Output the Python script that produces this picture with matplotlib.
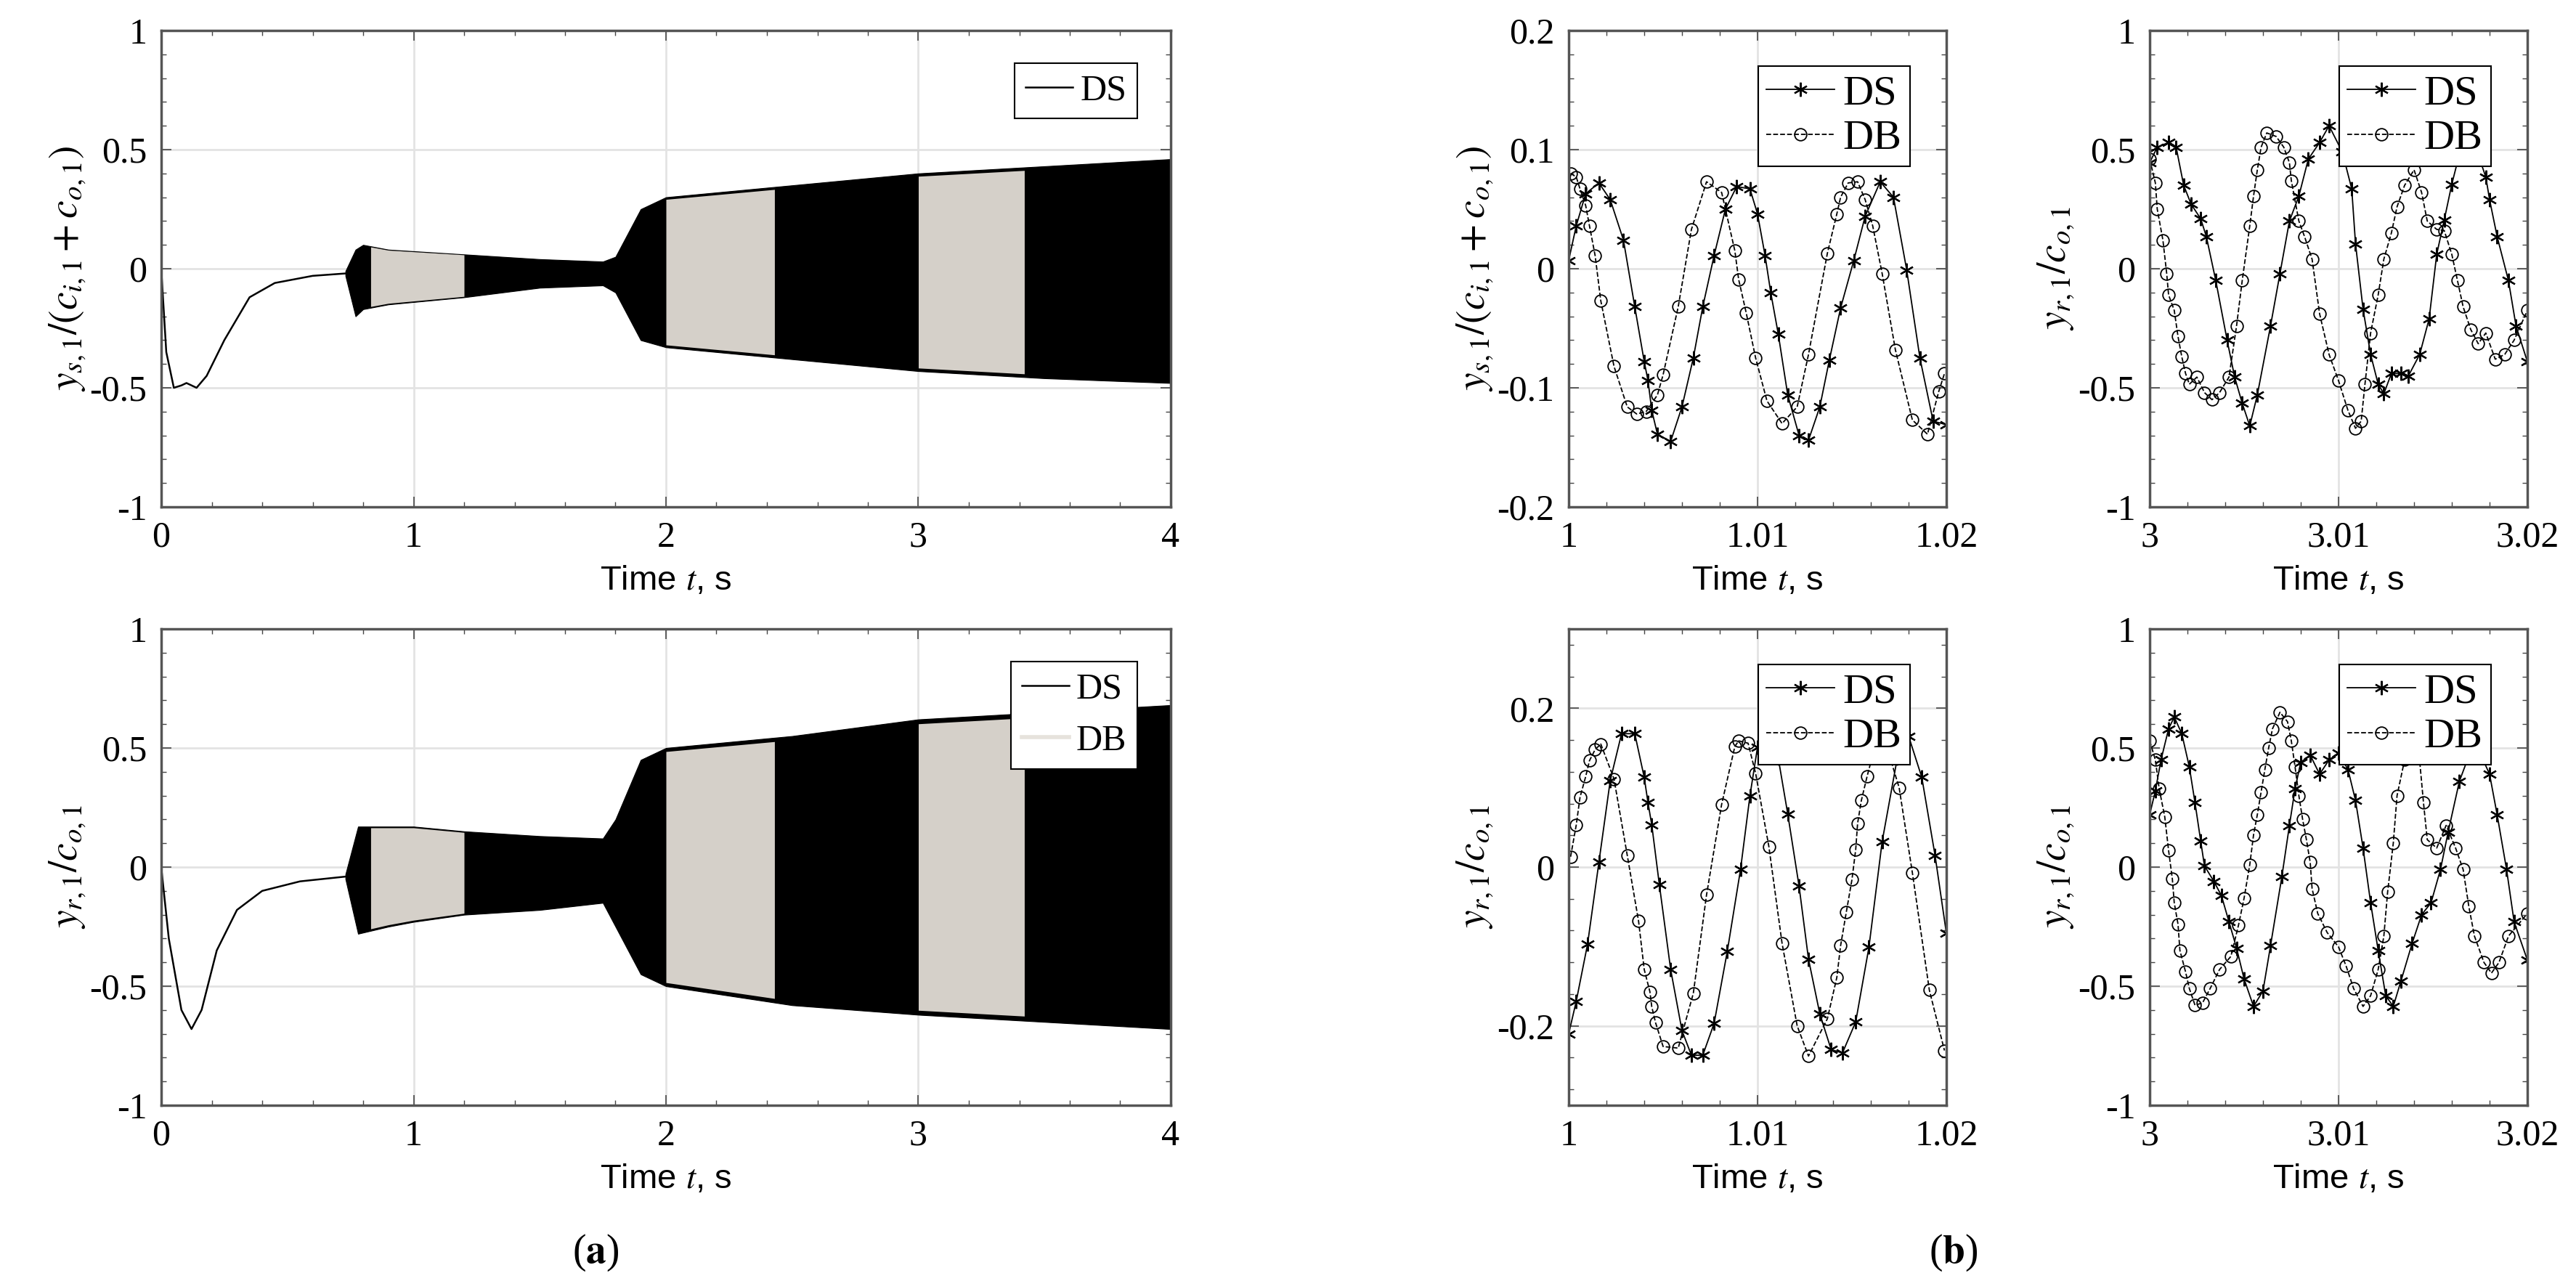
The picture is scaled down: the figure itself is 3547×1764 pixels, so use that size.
import numpy as np
import matplotlib
matplotlib.use('Agg')
import matplotlib.pyplot as plt
from matplotlib.ticker import AutoMinorLocator

plt.rcParams['font.family'] = 'Liberation Serif'
plt.rcParams['mathtext.fontset'] = 'stix'

BLACK = '#000000'
GRAY = '#d5d0c9'

# ---- (a) long runs: transients and oscillation envelopes ----
ys_tr_t = [0.0, 0.02, 0.05, 0.08, 0.1, 0.12, 0.14, 0.18, 0.25, 0.35, 0.45, 0.6, 0.73]
ys_tr_v = [0.0, -0.35, -0.5, -0.49, -0.48, -0.49, -0.5, -0.45, -0.3, -0.12, -0.06, -0.03, -0.02]
ys_env_t = [0.73, 0.77, 0.8, 0.9, 1.2, 1.5, 1.75, 1.8, 1.9, 2.0, 2.5, 3.0, 3.5, 4.0]
ys_env_hi = [-0.01, 0.08, 0.1, 0.08, 0.06, 0.04, 0.03, 0.05, 0.25, 0.3, 0.35, 0.4, 0.43, 0.46]
ys_env_lo = [-0.03, -0.2, -0.17, -0.15, -0.12, -0.08, -0.07, -0.1, -0.3, -0.33, -0.38, -0.43, -0.46, -0.48]
db_windows = [(0.83, 1.2), (2.0, 2.43), (3.0, 3.42)]

yr_tr_t = [0.0, 0.03, 0.08, 0.12, 0.16, 0.22, 0.3, 0.4, 0.55, 0.73]
yr_tr_v = [0.0, -0.3, -0.6, -0.68, -0.6, -0.35, -0.18, -0.1, -0.06, -0.04]
yr_env_t = [0.73, 0.78, 0.9, 1.0, 1.2, 1.5, 1.75, 1.8, 1.9, 2.0, 2.5, 3.0, 3.5, 4.0]
yr_env_hi = [-0.03, 0.17, 0.17, 0.17, 0.15, 0.13, 0.12, 0.2, 0.45, 0.5, 0.55, 0.62, 0.65, 0.68]
yr_env_lo = [-0.05, -0.28, -0.25, -0.23, -0.2, -0.18, -0.15, -0.25, -0.45, -0.5, -0.58, -0.62, -0.65, -0.68]

# ---- (b) zoomed windows ----
tl_ds_t = [1.0, 1.0004, 1.0009, 1.0016, 1.0022, 1.0029, 1.0035, 1.004, 1.0042, 1.0044, 1.0047, 1.0054,
           1.006, 1.0066, 1.0071, 1.0077, 1.0083, 1.0089, 1.0096, 1.01, 1.0104, 1.0107, 1.0111, 1.0116,
           1.0122, 1.0127, 1.0133, 1.0138, 1.0144, 1.0151, 1.0157, 1.0165, 1.0172, 1.0179, 1.0186, 1.0193, 1.02]
tl_ds_v = [0.007, 0.036, 0.063, 0.072, 0.058, 0.024, -0.032, -0.078, -0.094, -0.119, -0.139, -0.145,
           -0.116, -0.075, -0.032, 0.011, 0.05, 0.069, 0.067, 0.046, 0.011, -0.02, -0.055, -0.106,
           -0.14, -0.144, -0.116, -0.077, -0.033, 0.007, 0.044, 0.073, 0.06, -0.001, -0.075, -0.128, -0.131]
tl_db_t = [1.0001, 1.0004, 1.0006, 1.0009, 1.0011, 1.0014, 1.0017, 1.0024, 1.0031, 1.0036, 1.0041, 1.0047,
           1.005, 1.0058, 1.0065, 1.0073, 1.0081, 1.0088, 1.009, 1.0094, 1.0099, 1.0105, 1.0113, 1.0121,
           1.0127, 1.0137, 1.0142, 1.0144, 1.0148, 1.0153, 1.0157, 1.0161, 1.0166, 1.0173, 1.0182, 1.019,
           1.0196, 1.0199]
tl_db_v = [0.08, 0.077, 0.067, 0.053, 0.036, 0.011, -0.027, -0.082, -0.116, -0.122, -0.12, -0.106,
           -0.089, -0.032, 0.033, 0.073, 0.064, 0.015, -0.009, -0.037, -0.075, -0.111, -0.13, -0.116,
           -0.072, 0.013, 0.046, 0.06, 0.072, 0.073, 0.058, 0.036, -0.004, -0.068, -0.127, -0.139,
           -0.103, -0.088]

tr_ds_t = [3.0, 3.0004, 3.001, 3.0014, 3.0018, 3.0022, 3.0027, 3.003, 3.0035, 3.0041, 3.0045, 3.0049,
           3.0053, 3.0057, 3.0064, 3.0069, 3.0074, 3.0079, 3.0084, 3.009, 3.0095, 3.0102, 3.0107, 3.0109,
           3.0113, 3.0117, 3.0121, 3.0124, 3.0128, 3.0133, 3.0137, 3.0143, 3.0148, 3.0152, 3.0156, 3.016,
           3.0164, 3.017, 3.0178, 3.018, 3.0184, 3.019, 3.0194, 3.02]
tr_ds_v = [0.445, 0.51, 0.53, 0.51, 0.35, 0.27, 0.21, 0.135, -0.05, -0.3, -0.455, -0.565,
           -0.66, -0.53, -0.24, -0.02, 0.2, 0.305, 0.46, 0.53, 0.6, 0.49, 0.335, 0.105,
           -0.17, -0.36, -0.485, -0.525, -0.44, -0.44, -0.45, -0.36, -0.21, 0.06, 0.205, 0.355,
           0.48, 0.57, 0.385, 0.29, 0.135, -0.05, -0.24, -0.39]
tr_db_t = [3.0, 3.0003, 3.0004, 3.0007, 3.0009, 3.001, 3.0013, 3.0015, 3.0017, 3.0019, 3.0021, 3.0025,
           3.0029, 3.0033, 3.0037, 3.0042, 3.0046, 3.0049, 3.0053, 3.0055, 3.0057, 3.0059, 3.0062, 3.0067,
           3.0071, 3.0074, 3.0075, 3.0079, 3.0082, 3.0086, 3.009, 3.0095, 3.01, 3.0105, 3.0109, 3.0112,
           3.0114, 3.0117, 3.0121, 3.0124, 3.0128, 3.0131, 3.0135, 3.014, 3.0144, 3.0147, 3.0152, 3.0156,
           3.016, 3.0163, 3.0166, 3.017, 3.0174, 3.0178, 3.0183, 3.0188, 3.0193, 3.02]
tr_db_v = [0.46, 0.36, 0.25, 0.12, -0.02, -0.11, -0.175, -0.285, -0.37, -0.44, -0.485, -0.455,
           -0.52, -0.55, -0.52, -0.455, -0.24, -0.05, 0.18, 0.305, 0.415, 0.51, 0.57, 0.555,
           0.51, 0.445, 0.37, 0.2, 0.135, 0.04, -0.19, -0.36, -0.47, -0.595, -0.67, -0.64,
           -0.485, -0.27, -0.11, 0.04, 0.15, 0.26, 0.35, 0.415, 0.32, 0.2, 0.165, 0.16,
           0.06, -0.05, -0.16, -0.255, -0.315, -0.27, -0.38, -0.36, -0.3, -0.175]

bl_ds_t = [1.0, 1.0004, 1.001, 1.0016, 1.0022, 1.0028, 1.0035, 1.004, 1.0042, 1.0044, 1.0048, 1.0054,
           1.006, 1.0065, 1.0071, 1.0077, 1.0084, 1.0091, 1.0096, 1.01, 1.0106, 1.0111, 1.0116, 1.0122,
           1.0127, 1.0133, 1.0139, 1.0145, 1.0152, 1.0159, 1.0166, 1.0174, 1.018, 1.0187, 1.0194, 1.02]
bl_ds_v = [-0.21, -0.169, -0.097, 0.006, 0.109, 0.168, 0.168, 0.113, 0.081, 0.053, -0.022, -0.129,
           -0.206, -0.237, -0.237, -0.197, -0.106, -0.003, 0.09, 0.151, 0.169, 0.137, 0.067, -0.024,
           -0.116, -0.185, -0.23, -0.234, -0.195, -0.101, 0.032, 0.137, 0.165, 0.113, 0.015, -0.083]
bl_db_t = [1.0001, 1.0004, 1.0006, 1.0009, 1.0011, 1.0014, 1.0017, 1.0024, 1.0031, 1.0037, 1.004, 1.0043,
           1.0044, 1.0046, 1.005, 1.0058, 1.0066, 1.0073, 1.0081, 1.0088, 1.009, 1.0095, 1.0099, 1.0106,
           1.0113, 1.0121, 1.0127, 1.0137, 1.0142, 1.0144, 1.0147, 1.015, 1.0152, 1.0153, 1.0155, 1.0158,
           1.0161, 1.0168, 1.0175, 1.0182, 1.0191, 1.0199]
bl_db_v = [0.013, 0.053, 0.088, 0.114, 0.134, 0.148, 0.155, 0.111, 0.015, -0.068, -0.129, -0.157,
           -0.176, -0.196, -0.226, -0.228, -0.159, -0.035, 0.079, 0.152, 0.159, 0.156, 0.118, 0.026,
           -0.096, -0.2, -0.238, -0.191, -0.139, -0.099, -0.057, -0.016, 0.022, 0.055, 0.084, 0.114,
           0.141, 0.155, 0.1, -0.007, -0.155, -0.231]

br_ds_t = [3.0, 3.0003, 3.0006, 3.001, 3.0013, 3.0017, 3.0021, 3.0024, 3.0027, 3.0029, 3.0034, 3.0038,
           3.0042, 3.0046, 3.005, 3.0055, 3.006, 3.0064, 3.007, 3.0074, 3.0077, 3.008, 3.0085, 3.009,
           3.0095, 3.01, 3.0105, 3.0109, 3.0113, 3.0117, 3.0121, 3.0125, 3.0129, 3.0133, 3.0139, 3.0144,
           3.0149, 3.0154, 3.0158, 3.0164, 3.0172, 3.018, 3.0184, 3.0189, 3.0193, 3.02]
br_ds_v = [0.22, 0.32, 0.45, 0.58, 0.63, 0.56, 0.42, 0.27, 0.11, 0.005, -0.06, -0.12,
           -0.23, -0.34, -0.47, -0.585, -0.52, -0.33, -0.04, 0.175, 0.33, 0.44, 0.47, 0.39,
           0.45, 0.48, 0.41, 0.28, 0.08, -0.15, -0.35, -0.54, -0.585, -0.48, -0.32, -0.2,
           -0.15, -0.01, 0.145, 0.36, 0.53, 0.39, 0.22, -0.01, -0.23, -0.39]
br_db_t = [3.0, 3.0003, 3.0005, 3.0008, 3.001, 3.0012, 3.0013, 3.0015, 3.0016, 3.0019, 3.0021, 3.0024,
           3.0028, 3.0032, 3.0037, 3.0043, 3.0047, 3.005, 3.0053, 3.0055, 3.0057, 3.0059, 3.0061, 3.0063,
           3.0065, 3.0069, 3.0073, 3.0075, 3.0077, 3.0079, 3.0081, 3.0083, 3.0085, 3.0086, 3.0089, 3.0094,
           3.01, 3.0104, 3.0108, 3.0113, 3.0117, 3.0121, 3.0124, 3.0126, 3.0129, 3.0131, 3.0135, 3.0142,
           3.0145, 3.0147, 3.0152, 3.0157, 3.0162, 3.0166, 3.0169, 3.0172, 3.0177, 3.0181, 3.0185, 3.019,
           3.02]
br_db_v = [0.53, 0.45, 0.33, 0.21, 0.07, -0.05, -0.15, -0.24, -0.35, -0.44, -0.51, -0.58,
           -0.57, -0.51, -0.43, -0.375, -0.245, -0.13, 0.01, 0.135, 0.22, 0.315, 0.41, 0.5,
           0.58, 0.65, 0.61, 0.53, 0.42, 0.3, 0.2, 0.115, 0.02, -0.09, -0.195, -0.275,
           -0.335, -0.415, -0.51, -0.585, -0.54, -0.43, -0.29, -0.105, 0.1, 0.3, 0.45, 0.53,
           0.27, 0.115, 0.08, 0.175, 0.08, -0.01, -0.165, -0.29, -0.4, -0.445, -0.4, -0.29,
           -0.195]

ylabel_s = r'$y_{s,1}/(c_{i,1}+c_{o,1})$'
ylabel_r = r'$y_{r,1}/c_{o,1}$'
xlabel = r'Time $t$, s'

fig = plt.figure(figsize=(35.48, 17.64), dpi=100)


def style(ax, xlim, ylim, xticks, yticks, xticklabels, yticklabels):
    ax.set_xlim(xlim)
    ax.set_ylim(ylim)
    ax.set_xticks(xticks)
    ax.set_yticks(yticks)
    ax.set_xticklabels(xticklabels)
    ax.set_yticklabels(yticklabels)
    ax.xaxis.set_minor_locator(AutoMinorLocator(5))
    ax.yaxis.set_minor_locator(AutoMinorLocator(5))
    ax.tick_params(which='both', direction='in', top=True, right=True, colors='#444444',
                   labelcolor='black', labelsize=36, pad=14)
    ax.tick_params(which='major', length=10, width=1.2)
    ax.tick_params(which='minor', length=5, width=1)
    ax.grid(True, which='major', color='#e3e3e3', lw=2)
    ax.set_axisbelow(True)
    for s in ax.spines.values():
        s.set_color('#555555')
        s.set_linewidth(2.5)
    ax.set_xlabel(xlabel, family='Liberation Sans', fontsize=34, labelpad=10)


def long_panel(ax, tr_t, tr_v, env_t, hi, lo, label, show_db):
    ax.plot(tr_t, tr_v, color=BLACK, lw=1.8, label='DS')
    ax.fill_between(env_t, lo, hi, color=BLACK, lw=0.8)
    t = np.array(env_t)
    for a, b in db_windows:
        sel = (t >= a) & (t <= b)
        ts = np.concatenate([[a], t[sel], [b]])
        up = np.interp(ts, env_t, hi) * 0.97
        dn = np.interp(ts, env_t, lo) * 0.97
        ax.fill_between(ts, dn, up, color=GRAY, lw=0)
    if show_db:
        ax.plot([], [], color='#e6e2dc', lw=4, label='DB')
    style(ax, (0, 4), (-1, 1), [0, 1, 2, 3, 4], [-1, -0.5, 0, 0.5, 1],
          ['0', '1', '2', '3', '4'], ['-1', '-0.5', '0', '0.5', '1'])
    ax.set_ylabel(label, fontsize=40, labelpad=2)
    leg = ax.legend(loc='upper right', fontsize=36, handlelength=1.3, handletextpad=0.2,
                    borderpad=0.3, fancybox=False, edgecolor='black', framealpha=1,
                    bbox_to_anchor=(0.985, 0.97))
    leg.get_frame().set_linewidth(1.5)


def zoom_panel(ax, ds_t, ds_v, db_t, db_v, xlim, ylim, xt, yt, xtl, ytl, label):
    ax.plot(ds_t, ds_v, color=BLACK, lw=1.3, marker=(6, 2, 0), ms=14, mew=1.6, label='DS')
    ax.plot(db_t, db_v, color=BLACK, lw=1.3, ls='--', marker='o', ms=12, mfc='none',
            mew=1.3, label='DB')
    style(ax, xlim, ylim, xt, yt, xtl, ytl)
    ax.set_ylabel(label, fontsize=40, labelpad=2)
    leg = ax.legend(loc='upper right', fontsize=42, handlelength=1.6, handletextpad=0.2,
                    borderpad=0.2, labelspacing=0.15, fancybox=False, edgecolor='black',
                    framealpha=1, bbox_to_anchor=(0.96, 0.97))
    leg.get_frame().set_linewidth(1.5)


W, H = 3548, 1764
ax1 = fig.add_axes([222 / W, 1 - 698 / H, 1390 / W, 656 / H])
ax2 = fig.add_axes([222 / W, 1 - 1522 / H, 1390 / W, 656 / H])
ax3 = fig.add_axes([2160 / W, 1 - 698 / H, 520 / W, 656 / H])
ax4 = fig.add_axes([2960 / W, 1 - 698 / H, 520 / W, 656 / H])
ax5 = fig.add_axes([2160 / W, 1 - 1522 / H, 520 / W, 656 / H])
ax6 = fig.add_axes([2960 / W, 1 - 1522 / H, 520 / W, 656 / H])

long_panel(ax1, ys_tr_t, ys_tr_v, ys_env_t, ys_env_hi, ys_env_lo, ylabel_s, False)
long_panel(ax2, yr_tr_t, yr_tr_v, yr_env_t, yr_env_hi, yr_env_lo, ylabel_r, True)

x1 = ([1, 1.01, 1.02], ['1', '1.01', '1.02'])
x3 = ([3, 3.01, 3.02], ['3', '3.01', '3.02'])
y1 = ([-1, -0.5, 0, 0.5, 1], ['-1', '-0.5', '0', '0.5', '1'])
zoom_panel(ax3, tl_ds_t, tl_ds_v, tl_db_t, tl_db_v, (1, 1.02), (-0.2, 0.2), x1[0],
           [-0.2, -0.1, 0, 0.1, 0.2], x1[1], ['-0.2', '-0.1', '0', '0.1', '0.2'], ylabel_s)
zoom_panel(ax4, tr_ds_t, tr_ds_v, tr_db_t, tr_db_v, (3, 3.02), (-1, 1), x3[0], y1[0],
           x3[1], y1[1], ylabel_r)
zoom_panel(ax5, bl_ds_t, bl_ds_v, bl_db_t, bl_db_v, (1, 1.02), (-0.3, 0.3), x1[0],
           [-0.2, 0, 0.2], x1[1], ['-0.2', '0', '0.2'], ylabel_r)
zoom_panel(ax6, br_ds_t, br_ds_v, br_db_t, br_db_v, (3, 3.02), (-1, 1), x3[0], y1[0],
           x3[1], y1[1], ylabel_r)

fig.text(820 / W, 1 - 1725 / H, r'($\mathbf{a}$)', ha='center', va='center', fontsize=40)
fig.text(2690 / W, 1 - 1725 / H, r'($\mathbf{b}$)', ha='center', va='center', fontsize=40)

fig.savefig('out.png', dpi=100)
